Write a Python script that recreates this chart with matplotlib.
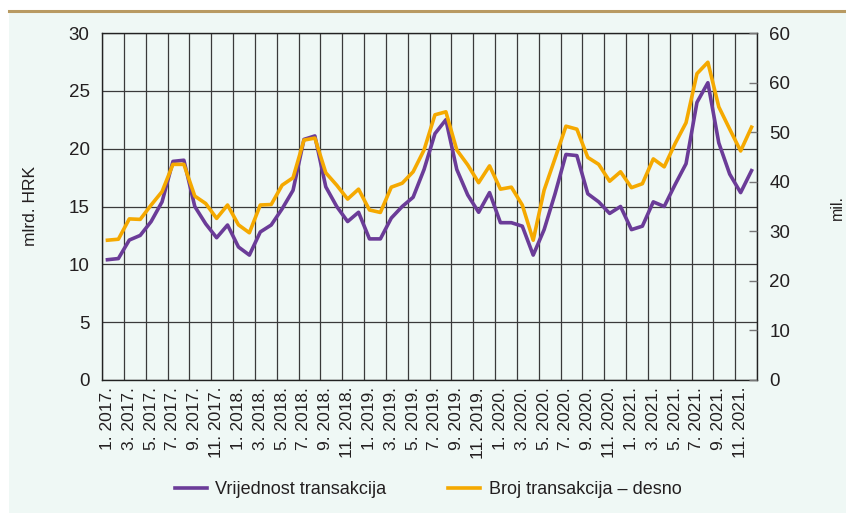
import matplotlib
matplotlib.use("Agg")
import matplotlib.pyplot as plt
from matplotlib.patches import Rectangle
from matplotlib.lines import Line2D

plt.rcParams['font.family'] = ['Liberation Sans', 'DejaVu Sans']

years = [2017, 2018, 2019, 2020, 2021]
months = list(range(1, 13))

# mlrd. HRK, lijeva os
vrijednost = [10.4, 10.5, 12.1, 12.5, 13.7, 15.4, 18.9, 19.0, 15.0, 13.5, 12.3, 13.4,
              11.5, 10.8, 12.8, 13.4, 14.8, 16.4, 20.8, 21.1, 16.7, 15.0, 13.7, 14.5,
              12.2, 12.2, 14.0, 15.0, 15.8, 18.2, 21.3, 22.5, 18.2, 16.0, 14.5, 16.2,
              13.6, 13.6, 13.3, 10.8, 13.0, 16.1, 19.5, 19.4, 16.1, 15.4, 14.4, 15.0,
              13.0, 13.3, 15.4, 15.0, 16.9, 18.7, 24.0, 25.7, 20.5, 17.8, 16.2, 18.1]

# mil., desna os
broj = [28.2, 28.4, 32.5, 32.4, 35.3, 38.0, 43.5, 43.5, 37.1, 35.6, 32.6, 35.3,
        31.3, 29.7, 35.3, 35.4, 39.3, 40.8, 48.4, 48.8, 41.8, 39.3, 36.5, 38.5,
        34.3, 33.8, 38.9, 39.7, 42.0, 46.4, 53.5, 54.1, 46.4, 43.4, 39.8, 43.2,
        38.5, 38.9, 35.3, 28.2, 38.3, 44.7, 51.2, 50.6, 44.9, 43.5, 40.1, 42.0,
        38.8, 39.6, 44.6, 43.0, 47.7, 51.9, 61.8, 64.1, 55.1, 50.6, 46.2, 51.0]

left_ticks = [0, 5, 10, 15, 20, 25, 30]
right_ticks = [0, 10, 20, 30, 40, 50, 60, 70]
right_labels = ['0', '10', '20', '30', '40', '50', '60', '60']

labels = [f"{m}. {y}." for y in years for m in months]
x = list(range(len(labels)))

txt = '#231f20'
purple = '#6b3c98'
orange = '#f5a900'
mint = '#eff8f5'

fig = plt.figure(figsize=(8.46, 5.13), dpi=100)
fig.patches.append(Rectangle((9 / 846, 0), 1, 1 - 12 / 513, transform=fig.transFigure,
                             facecolor=mint, edgecolor='none', zorder=-10))
fig.lines.append(Line2D([9 / 846, 1], [1 - 11 / 513, 1 - 11 / 513], transform=fig.transFigure,
                        color='#b89a62', lw=2.2))

ax = fig.add_axes([102 / 846, 1 - 380 / 513, 655 / 846, 347 / 513])
ax.set_facecolor(mint)
ax.set_xlim(-0.5, len(x) - 0.5)
ax.set_ylim(0, 30)
ax.set_yticks(left_ticks)
ax.set_xticks(x[::2])
ax.set_xticklabels(labels[::2], rotation=90, fontsize=12.5, color=txt)
ax.tick_params(axis='x', length=0, pad=5)
ax.tick_params(axis='y', length=0, pad=9, labelsize=13.5, labelcolor=txt)
ax.set_xticks([i - 0.5 for i in x[::2]] + [len(x) - 0.5], minor=True)
ax.tick_params(axis='x', which='minor', length=0)
ax.grid(True, axis='x', which='minor', color='#3a3a3a', lw=0.9)
ax.grid(True, axis='y', which='major', color='#3a3a3a', lw=0.9)
ax.set_axisbelow(True)
for s in ax.spines.values():
    s.set_color('#222222')
    s.set_linewidth(1.0)
ax.set_ylabel('mlrd. HRK', fontsize=12.5, color=txt, labelpad=22)

ax.plot(x, vrijednost, color=purple, lw=2.6, label='Vrijednost transakcija', zorder=3)

ax2 = ax.twinx()
ax2.set_ylim(0, 70)
ax2.set_yticks(right_ticks)
ax2.set_yticklabels(right_labels)
ax2.tick_params(axis='y', direction='in', length=6, width=1, color='#777777',
                pad=9, labelsize=13.5, labelcolor=txt)
for s in ax2.spines.values():
    s.set_visible(False)
ax2.plot(x, broj, color=orange, lw=2.6, label='Broj transakcija – desno', zorder=3)

fig.text(845 / 846, 1 - 208 / 513, 'mil.', rotation=90, ha='right', va='center',
         fontsize=11.5, color=txt)

handles = [Line2D([], [], color=purple, lw=2.6), Line2D([], [], color=orange, lw=2.6)]
fig.legend(handles, ['Vrijednost transakcija', 'Broj transakcija – desno'],
           loc='center', bbox_to_anchor=(428 / 846, 1 - 490 / 513), ncol=2,
           frameon=False, fontsize=13, handlelength=1.8, handletextpad=0.45,
           columnspacing=3.4, labelcolor=txt)

fig.savefig('out.png', dpi=100, facecolor='white')
